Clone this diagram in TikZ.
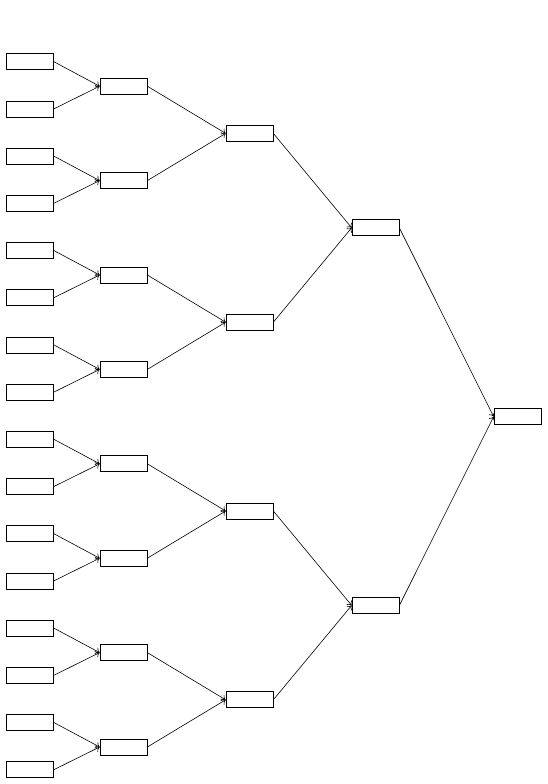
\documentclass[tikz,border=0pt]{standalone}
\usetikzlibrary{arrows.meta}
\begin{document}
\begin{tikzpicture}[x=1bp,y=-1bp,
  box/.style={draw, minimum width=47bp, minimum height=16bp, inner sep=0pt, line width=0.7pt},
  link/.style={-{To[length=4bp,width=7bp]}, line width=0.6pt}]
\useasboundingbox (0,0) rectangle (548,784);
\foreach \i in {1,...,16} { \node[box] (a\i) at (30, {61.7+47.2*(\i-1)}) {}; }
\foreach \i in {1,...,8} { \node[box] (b\i) at (123.5, {86.2+94.4*(\i-1)}) {}; }
\foreach \i in {1,...,4} { \node[box] (c\i) at (249.5, {133.4+188.8*(\i-1)}) {}; }
\foreach \i in {1,...,2} { \node[box] (d\i) at (375.5, {227.8+377.6*(\i-1)}) {}; }
\node[box] (e1) at (517.5, 416.6) {};
\foreach \i [evaluate=\i as \j using int(2*\i-1), evaluate=\i as \k using int(2*\i)] in {1,...,8} {
  \draw[link] (a\j.east) -- (b\i.west);
  \draw[link] (a\k.east) -- (b\i.west);
}
\foreach \i [evaluate=\i as \j using int(2*\i-1), evaluate=\i as \k using int(2*\i)] in {1,...,4} {
  \draw[link] (b\j.east) -- (c\i.west);
  \draw[link] (b\k.east) -- (c\i.west);
}
\foreach \i [evaluate=\i as \j using int(2*\i-1), evaluate=\i as \k using int(2*\i)] in {1,...,2} {
  \draw[link] (c\j.east) -- (d\i.west);
  \draw[link] (c\k.east) -- (d\i.west);
}
\draw[link] (d1.east) -- (e1.west);
\draw[link] (d2.east) -- (e1.west);
\end{tikzpicture}
\end{document}
